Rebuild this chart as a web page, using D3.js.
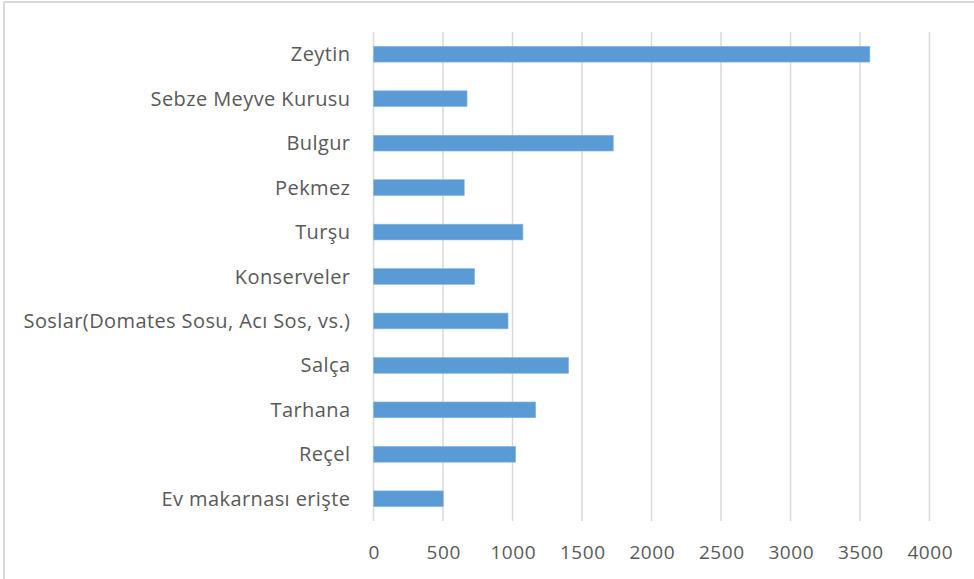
<!DOCTYPE html>
<html>
<head>
<meta charset="utf-8">
<script src="https://cdn.jsdelivr.net/npm/d3@7"></script>
<style>
  html, body { margin: 0; padding: 0; background: #fff; }
  svg { display: block; }
</style>
</head>
<body>
<svg id="chart" width="974" height="579"></svg>
<script>
const categories = ["Zeytin", "Sebze Meyve Kurusu", "Bulgur", "Pekmez", "Turşu", "Konserveler",
  "Soslar(Domates Sosu, Acı Sos, vs.)", "Salça", "Tarhana", "Reçel", "Ev makarnası erişte"];
const values = [3571, 673, 1725, 653, 1075, 728, 968, 1404, 1167, 1023, 502];
const xTicks = [0, 500, 1000, 1500, 2000, 2500, 3000, 3500, 4000];

const svg = d3.select("#chart");
const W = 974, H = 579;
const plot = { left: 373.5, right: 929.5, top: 32, bottom: 521 };
const font = "'Open Sans', sans-serif";
const textColor = "#595959";

// chart area border (cropped frame)
svg.append("line").attr("x1", 4).attr("x2", W).attr("y1", 2).attr("y2", 2)
  .attr("stroke", "#d9d9d9").attr("stroke-width", 2);
svg.append("line").attr("x1", 4).attr("x2", 4).attr("y1", 2).attr("y2", H)
  .attr("stroke", "#d9d9d9").attr("stroke-width", 2);

const x = d3.scaleLinear().domain([0, 4000]).range([plot.left, plot.right]);
const y = d3.scaleBand().domain(categories).range([plot.top, plot.bottom])
  .paddingInner(0.645).paddingOuter(0.3225);

// gridlines
svg.append("g").selectAll("line").data(xTicks).join("line")
  .attr("x1", d => x(d)).attr("x2", d => x(d))
  .attr("y1", plot.top).attr("y2", plot.bottom)
  .attr("stroke", "#d9d9d9").attr("stroke-width", 1.5);

// bars
svg.append("g").selectAll("rect").data(categories).join("rect")
  .attr("x", x(0))
  .attr("y", d => y(d))
  .attr("width", (d, i) => x(values[i]) - x(0))
  .attr("height", y.bandwidth())
  .attr("fill", "#5b9bd5")
  .attr("stroke", "#8ab8e6").attr("stroke-width", 0.6);

// x axis labels
const xAxis = d3.axisBottom(x).tickValues(xTicks).tickSize(0).tickPadding(0).tickFormat(d3.format("d"));
const gx = svg.append("g").attr("transform", `translate(0, ${plot.bottom})`).call(xAxis);
gx.select(".domain").remove();
gx.selectAll("text").attr("font-family", font).attr("font-size", 19)
  .attr("fill", textColor).attr("dy", null).attr("y", 38)
  .attr("letter-spacing", 0.6).attr("x", 0.3);

// y axis labels
const yAxis = d3.axisLeft(y).tickSize(0).tickPadding(0);
const gy = svg.append("g").attr("transform", `translate(350, 0)`).call(yAxis);
gy.select(".domain").remove();
gy.selectAll("text").attr("font-family", font).attr("font-size", 20)
  .attr("letter-spacing", 0.4)
  .attr("fill", textColor).attr("x", 0.4).attr("dy", "0.35em");
</script>
</body>
</html>
